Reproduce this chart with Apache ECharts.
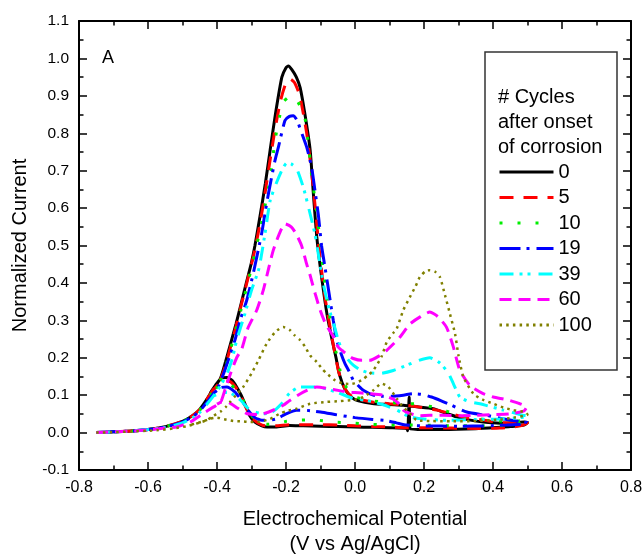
<!DOCTYPE html>
<html>
<head>
<meta charset="utf-8">
<script src="https://cdn.jsdelivr.net/npm/echarts@6/dist/echarts.min.js"></script>
<style>html,body{margin:0;padding:0;background:#fff}#c{width:642px;height:554px}</style>
</head>
<body>
<div id="c"></div>
<script>
// ---- data: [potential (V), normalized current] in scan order ----
const seriesNames = ['0', '5', '10', '19', '39', '60', '100'];
const legendTitle = ['# Cycles', 'after onset', 'of corrosion'];
const xTicks = [-0.8, -0.6, -0.4, -0.2, 0.0, 0.2, 0.4, 0.6, 0.8];
const yTicks = [-0.1, 0.0, 0.1, 0.2, 0.3, 0.4, 0.5, 0.6, 0.7, 0.8, 0.9, 1.0, 1.1];

const c0 = [[-0.75,0.000],[-0.70,0.002],[-0.65,0.004],[-0.60,0.008],[-0.55,0.016],[-0.50,0.030],[-0.47,0.046],[-0.45,0.062],[-0.43,0.088],[-0.41,0.118],[-0.39,0.145],
[-0.375,0.19],[-0.36,0.24],[-0.345,0.29],[-0.33,0.345],[-0.315,0.40],[-0.30,0.455],[-0.29,0.50],[-0.275,0.58],[-0.26,0.665],[-0.246,0.755],[-0.23,0.855],[-0.212,0.95],[-0.20,0.975],[-0.193,0.98],[-0.183,0.97],[-0.17,0.95],[-0.159,0.922],[-0.145,0.85],[-0.13,0.755],[-0.12,0.63],[-0.111,0.525],[-0.101,0.445],[-0.09,0.37],[-0.08,0.31],[-0.068,0.255],[-0.055,0.20],[-0.045,0.155],[-0.03,0.118],[-0.01,0.094],[0.01,0.085],[0.05,0.078],[0.10,0.075],[0.14,0.073],[0.18,0.069],[0.227,0.064],[0.26,0.053],[0.295,0.042],[0.33,0.034],[0.372,0.028],[0.42,0.025],[0.46,0.026],[0.49,0.028],[0.50,0.027],
[0.49,0.020],[0.45,0.016],[0.42,0.014],[0.35,0.010],[0.25,0.008],[0.20,0.008],[0.16,0.010],[0.157,0.095],[0.153,0.005],[0.15,0.011],[0.10,0.013],[0.05,0.014],[0.00,0.015],[-0.05,0.016],[-0.10,0.017],[-0.15,0.018],[-0.19,0.019],[-0.23,0.015],[-0.255,0.015],[-0.27,0.018],[-0.29,0.028],[-0.305,0.045],[-0.315,0.068],[-0.33,0.10],[-0.343,0.122],[-0.357,0.14],[-0.372,0.147],[-0.385,0.146],[-0.40,0.132],[-0.42,0.105]];

const c5 = [[-0.75,0.000],[-0.70,0.002],[-0.65,0.004],[-0.60,0.008],[-0.55,0.016],[-0.50,0.030],[-0.47,0.046],[-0.45,0.062],[-0.43,0.088],[-0.41,0.116],[-0.39,0.142],
[-0.375,0.18],[-0.36,0.232],[-0.345,0.283],[-0.33,0.34],[-0.315,0.395],[-0.30,0.45],[-0.29,0.49],[-0.275,0.56],[-0.26,0.645],[-0.245,0.735],[-0.23,0.82],[-0.215,0.89],[-0.20,0.935],[-0.188,0.945],[-0.175,0.935],[-0.16,0.90],[-0.14,0.80],[-0.125,0.69],[-0.115,0.60],[-0.105,0.50],[-0.095,0.42],[-0.085,0.35],[-0.072,0.28],[-0.06,0.22],[-0.048,0.165],[-0.035,0.128],[-0.02,0.105],[0.00,0.092],[0.05,0.082],[0.10,0.077],[0.15,0.073],[0.188,0.068],[0.237,0.060],[0.285,0.049],[0.32,0.040],[0.362,0.035],[0.41,0.028],[0.459,0.025],[0.49,0.027],[0.50,0.026],
[0.48,0.018],[0.42,0.012],[0.35,0.011],[0.28,0.012],[0.20,0.013],[0.15,0.013],[0.10,0.015],[0.05,0.016],[0.00,0.018],[-0.05,0.020],[-0.10,0.021],[-0.15,0.021],[-0.19,0.021],[-0.23,0.018],[-0.26,0.018],[-0.28,0.025],[-0.30,0.040],[-0.315,0.065],[-0.33,0.095],[-0.345,0.12],[-0.36,0.135],[-0.375,0.140],[-0.39,0.135],[-0.41,0.115]];

const c10 = [[-0.75,0.000],[-0.70,0.002],[-0.65,0.004],[-0.60,0.008],[-0.55,0.016],[-0.50,0.030],[-0.47,0.045],[-0.45,0.060],[-0.43,0.085],[-0.41,0.112],[-0.39,0.140],
[-0.375,0.175],[-0.36,0.225],[-0.345,0.275],[-0.33,0.33],[-0.315,0.385],[-0.30,0.44],[-0.285,0.50],[-0.266,0.58],[-0.256,0.63],[-0.246,0.678],[-0.232,0.78],[-0.222,0.83],[-0.208,0.883],[-0.195,0.895],[-0.185,0.90],[-0.17,0.89],[-0.158,0.87],[-0.145,0.84],[-0.135,0.77],[-0.126,0.69],[-0.111,0.59],[-0.10,0.50],[-0.09,0.42],[-0.08,0.35],[-0.068,0.28],[-0.055,0.215],[-0.043,0.165],[-0.03,0.13],[-0.015,0.105],[0.00,0.095],[0.05,0.085],[0.10,0.080],[0.15,0.078],[0.19,0.075],[0.24,0.065],[0.29,0.050],[0.34,0.040],[0.40,0.032],[0.45,0.030],[0.50,0.033],
[0.48,0.025],[0.43,0.020],[0.35,0.018],[0.28,0.018],[0.20,0.020],[0.15,0.020],[0.10,0.020],[0.05,0.022],[0.00,0.025],[-0.06,0.028],[-0.12,0.034],[-0.17,0.033],[-0.20,0.030],[-0.227,0.025],[-0.25,0.022],[-0.275,0.025],[-0.295,0.040],[-0.31,0.060],[-0.325,0.088],[-0.34,0.110],[-0.36,0.128],[-0.375,0.132],[-0.39,0.128],[-0.41,0.112]];

const c19 = [[-0.75,0.000],[-0.70,0.002],[-0.65,0.004],[-0.60,0.008],[-0.55,0.015],[-0.50,0.028],[-0.47,0.043],[-0.45,0.058],[-0.43,0.080],[-0.41,0.105],[-0.395,0.125],
[-0.38,0.16],[-0.365,0.20],[-0.348,0.247],[-0.333,0.30],[-0.314,0.353],[-0.295,0.425],[-0.271,0.53],[-0.261,0.585],[-0.251,0.638],[-0.232,0.727],[-0.222,0.763],[-0.203,0.834],[-0.19,0.845],[-0.179,0.847],[-0.168,0.835],[-0.159,0.812],[-0.14,0.763],[-0.126,0.71],[-0.116,0.647],[-0.106,0.58],[-0.097,0.50],[-0.087,0.442],[-0.072,0.353],[-0.063,0.30],[-0.053,0.247],[-0.04,0.21],[-0.029,0.184],[-0.015,0.16],[-0.005,0.14],[0.01,0.125],[0.024,0.113],[0.053,0.100],[0.08,0.097],[0.101,0.097],[0.14,0.100],[0.169,0.104],[0.195,0.102],[0.222,0.095],[0.25,0.085],[0.28,0.073],[0.324,0.055],[0.382,0.046],[0.44,0.035],[0.488,0.028],[0.50,0.027],
[0.48,0.022],[0.44,0.020],[0.38,0.018],[0.30,0.017],[0.20,0.018],[0.15,0.020],[0.12,0.026],[0.09,0.032],[0.05,0.035],[0.00,0.040],[-0.05,0.047],[-0.10,0.055],[-0.15,0.060],[-0.17,0.060],[-0.20,0.050],[-0.227,0.037],[-0.25,0.033],[-0.27,0.033],[-0.29,0.040],[-0.31,0.060],[-0.328,0.086],[-0.35,0.110],[-0.372,0.122],[-0.39,0.120],[-0.41,0.105]];

const c39 = [[-0.75,0.000],[-0.70,0.002],[-0.65,0.004],[-0.60,0.008],[-0.55,0.014],[-0.50,0.026],[-0.47,0.040],[-0.45,0.054],[-0.43,0.075],[-0.41,0.098],[-0.39,0.125],
[-0.37,0.16],[-0.355,0.20],[-0.343,0.247],[-0.319,0.318],[-0.30,0.38],[-0.278,0.44],[-0.258,0.549],[-0.246,0.62],[-0.227,0.669],[-0.21,0.705],[-0.198,0.72],[-0.185,0.718],[-0.169,0.705],[-0.15,0.656],[-0.135,0.603],[-0.116,0.53],[-0.105,0.47],[-0.092,0.398],[-0.075,0.33],[-0.06,0.285],[-0.048,0.245],[-0.035,0.215],[-0.02,0.195],[-0.005,0.18],[0.014,0.168],[0.04,0.160],[0.072,0.158],[0.111,0.166],[0.15,0.180],[0.185,0.193],[0.217,0.200],[0.246,0.186],[0.27,0.160],[0.285,0.131],[0.304,0.095],[0.33,0.083],[0.362,0.077],[0.43,0.060],[0.488,0.046],[0.50,0.045],
[0.48,0.040],[0.42,0.036],[0.35,0.035],[0.265,0.033],[0.20,0.036],[0.159,0.042],[0.121,0.060],[0.08,0.075],[0.034,0.086],[-0.005,0.091],[-0.053,0.108],[-0.111,0.122],[-0.159,0.122],[-0.19,0.105],[-0.215,0.075],[-0.24,0.055],[-0.265,0.050],[-0.29,0.055],[-0.31,0.065],[-0.33,0.085],[-0.35,0.100],[-0.37,0.108],[-0.39,0.105],[-0.41,0.098]];

const c60 = [[-0.75,0.000],[-0.70,0.002],[-0.65,0.004],[-0.60,0.007],[-0.55,0.012],[-0.517,0.015],[-0.478,0.028],[-0.44,0.051],[-0.411,0.068],[-0.39,0.080],
[-0.375,0.12],[-0.36,0.16],[-0.343,0.20],[-0.328,0.224],[-0.31,0.28],[-0.285,0.327],[-0.266,0.38],[-0.25,0.44],[-0.237,0.487],[-0.22,0.53],[-0.203,0.558],[-0.185,0.55],[-0.17,0.53],[-0.155,0.50],[-0.14,0.45],[-0.13,0.42],[-0.115,0.37],[-0.101,0.327],[-0.085,0.29],[-0.065,0.26],[-0.049,0.229],[-0.025,0.21],[-0.005,0.198],[0.02,0.193],[0.043,0.193],[0.07,0.205],[0.092,0.22],[0.13,0.255],[0.159,0.29],[0.19,0.31],[0.217,0.322],[0.24,0.31],[0.265,0.282],[0.285,0.229],[0.304,0.166],[0.333,0.126],[0.37,0.105],[0.401,0.095],[0.44,0.088],[0.478,0.077],[0.497,0.068],
[0.49,0.058],[0.45,0.050],[0.40,0.048],[0.35,0.046],[0.30,0.045],[0.256,0.046],[0.217,0.046],[0.188,0.045],[0.159,0.051],[0.14,0.060],[0.13,0.075],[0.11,0.090],[0.08,0.100],[0.04,0.104],[0.00,0.107],[-0.02,0.108],[-0.063,0.115],[-0.111,0.122],[-0.15,0.108],[-0.19,0.085],[-0.208,0.073],[-0.25,0.055],[-0.28,0.048],[-0.314,0.051],[-0.34,0.065],[-0.365,0.080],[-0.386,0.082],[-0.40,0.076]];

const c100 = [[-0.75,0.000],[-0.70,0.001],[-0.65,0.003],[-0.60,0.005],[-0.575,0.006],[-0.527,0.011],[-0.488,0.017],[-0.46,0.024],[-0.43,0.033],[-0.41,0.045],[-0.39,0.056],
[-0.375,0.068],[-0.362,0.082],[-0.345,0.10],[-0.324,0.122],[-0.30,0.158],[-0.28,0.193],[-0.256,0.238],[-0.23,0.27],[-0.208,0.282],[-0.19,0.275],[-0.175,0.26],[-0.159,0.247],[-0.145,0.23],[-0.13,0.206],[-0.111,0.189],[-0.095,0.17],[-0.082,0.158],[-0.058,0.14],[-0.034,0.131],[-0.01,0.13],[0.019,0.14],[0.04,0.155],[0.053,0.166],[0.077,0.203],[0.092,0.242],[0.11,0.265],[0.121,0.278],[0.14,0.327],[0.159,0.362],[0.175,0.39],[0.188,0.416],[0.205,0.432],[0.217,0.434],[0.232,0.43],[0.246,0.416],[0.261,0.367],[0.275,0.318],[0.29,0.264],[0.30,0.206],[0.314,0.149],[0.343,0.104],[0.37,0.088],[0.401,0.077],[0.43,0.067],[0.459,0.060],[0.493,0.055],
[0.50,0.048],[0.46,0.040],[0.42,0.035],[0.35,0.031],[0.28,0.030],[0.217,0.031],[0.179,0.033],[0.159,0.051],[0.135,0.073],[0.121,0.091],[0.097,0.122],[0.077,0.131],[0.053,0.113],[0.024,0.095],[0.00,0.088],[-0.043,0.084],[-0.082,0.082],[-0.13,0.077],[-0.169,0.064],[-0.20,0.057],[-0.217,0.051],[-0.25,0.035],[-0.28,0.029],[-0.304,0.028],[-0.33,0.030],[-0.353,0.031],[-0.38,0.036],[-0.40,0.040],[-0.42,0.037],[-0.44,0.030],[-0.48,0.020]];

const curves = [c0, c5, c10, c19, c39, c60, c100];
const colors = ['#000000', '#ff0000', '#00ee00', '#0000ff', '#00ffff', '#ff00ff', '#808000'];
const dashes = ['solid', [14, 10], [3, 15], [21, 6, 3, 7], [14, 6, 3, 5, 3, 8], [12, 7], [2.5, 4.2]];
const widths = [3, 3, 3, 3, 3, 3, 2.5];

const FONT = '"Liberation Sans", Arial, Helvetica, sans-serif';
const chart = echarts.init(document.getElementById('c'), null, {renderer: 'canvas'});

const fmt = v => (Math.abs(v) < 1e-9 ? 0 : v).toFixed(1);
function xAx(pos, show) {
  return {
    type: 'value', position: pos, min: -0.8, max: 0.8, interval: 0.2,
    axisLine: {show: true, onZero: false, lineStyle: {color: '#000', width: 2}},
    axisTick: {show: true, inside: true, length: 8, lineStyle: {color: '#000', width: 1.5}},
    minorTick: {show: true, splitNumber: 2, length: 4.5, lineStyle: {color: '#000', width: 1.5}},
    splitLine: {show: false}, minorSplitLine: {show: false},
    axisLabel: {show: show, formatter: fmt, fontSize: 16, color: '#000', fontFamily: FONT, margin: 10},
    name: show ? 'Electrochemical Potential\n(V vs Ag/AgCl)' : '',
    nameLocation: 'middle', nameGap: 37,
    nameTextStyle: {fontSize: 20, color: '#000', fontFamily: FONT, lineHeight: 25}
  };
}
function yAx(pos, show) {
  return {
    type: 'value', position: pos, min: -0.1, max: 1.1, interval: 0.1,
    axisLine: {show: true, onZero: false, lineStyle: {color: '#000', width: 2}},
    axisTick: {show: true, inside: true, length: 8, lineStyle: {color: '#000', width: 1.5}},
    minorTick: {show: true, splitNumber: 2, length: 4.5, lineStyle: {color: '#000', width: 1.5}},
    splitLine: {show: false}, minorSplitLine: {show: false},
    axisLabel: {show: show, formatter: fmt, fontSize: 15.5, color: '#000', fontFamily: FONT, margin: 10},
    name: show ? 'Normalized Current' : '',
    nameLocation: 'middle', nameGap: 49, nameRotate: 90,
    nameTextStyle: {fontSize: 20, color: '#000', fontFamily: FONT}
  };
}

const series = curves.map((d, i) => ({
  name: seriesNames[i], type: 'line', data: d, xAxisIndex: 0, yAxisIndex: 0,
  symbol: 'none', smooth: 0.2, silent: true, animation: false,
  lineStyle: {color: colors[i], width: widths[i], type: dashes[i], cap: 'butt'},
  itemStyle: {color: colors[i]}
}));

const graphics = [
  {type: 'rect', shape: {x: 485, y: 52, width: 132, height: 318}, style: {fill: '#fff', stroke: '#333', lineWidth: 1.5}, z: 5},
  {type: 'text', x: 102, y: 58, style: {text: 'A', font: '18px ' + FONT, fill: '#000', textVerticalAlign: 'middle'}, z: 10}
];
legendTitle.forEach((t, k) => graphics.push({
  type: 'text', x: 498, y: 97 + k * 25,
  style: {text: t, font: '20px ' + FONT, fill: '#000', textVerticalAlign: 'middle'}, z: 10
}));

chart.setOption({
  animation: false,
  backgroundColor: '#fff',
  grid: {left: 79, right: 11, top: 21, bottom: 84, containLabel: false, outerBoundsMode: 'none'},
  xAxis: [xAx('bottom', true), xAx('top', false)],
  yAxis: [yAx('left', true), yAx('right', false)],
  legend: {
    data: seriesNames, orient: 'vertical', left: 498, top: 162, padding: 0,
    itemWidth: 54, itemHeight: 20, itemGap: 5.5, selectedMode: false, z: 10,
    itemStyle: {color: 'rgba(0,0,0,0)', borderWidth: 0, opacity: 0},
    lineStyle: {width: 3},
    textStyle: {fontSize: 20, color: '#000', fontFamily: FONT, lineHeight: 20}
  },
  graphic: graphics,
  series: series
});
</script>
</body>
</html>
